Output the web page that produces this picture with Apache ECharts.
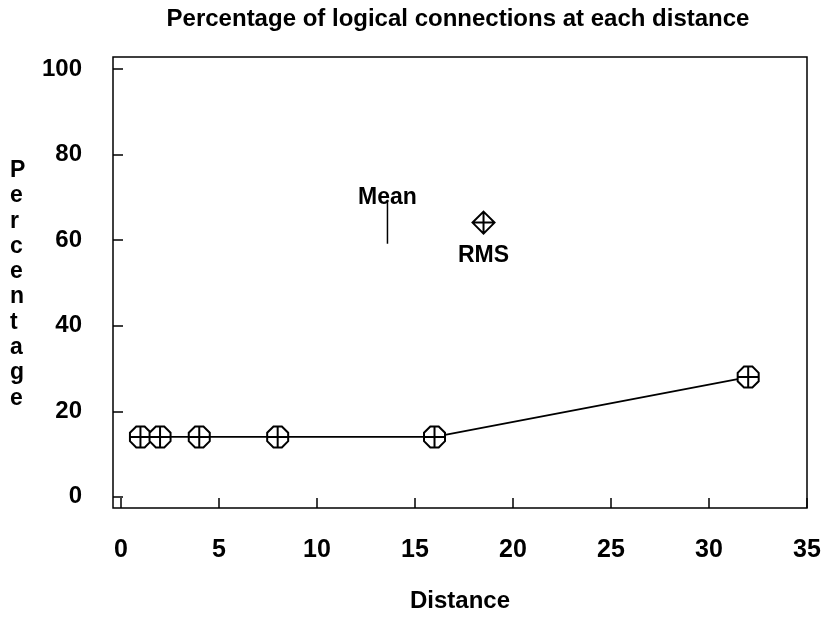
<!DOCTYPE html>
<html>
<head>
<meta charset="utf-8">
<script src="https://cdn.jsdelivr.net/npm/echarts@6/dist/echarts.min.js"></script>
<style>html,body{margin:0;padding:0;background:#fff}#c{width:825px;height:619px}</style>
</head>
<body>
<div id="c"></div>
<script>
const distances = [1, 2, 4, 8, 16, 32];
const percentages = [14, 14, 14, 14, 14, 28];
const meanPoint = [13.6, 64.3];
const rmsPoint = [18.5, 64.1];
const xTicks = [0, 5, 10, 15, 20, 25, 30, 35];
const yTicks = [0, 20, 40, 60, 80, 100];
const titleText = 'Percentage of logical connections at each distance';
const xName = 'Distance';
const yName = 'Percentage';

const FONT = '"Liberation Sans", Arial, sans-serif';
const octCross = 'path://M6,0 L14,0 L20,6 L20,14 L14,20 L6,20 L0,14 L0,6 Z M10,0 L10,20 M0,10 L20,10';
const diaCross = 'path://M10,0 L20,10 L10,20 L0,10 Z M10,0 L10,20 M0,10 L20,10';

const chart = echarts.init(document.getElementById('c'), null, {renderer: 'canvas'});
chart.setOption({
  backgroundColor: '#fff',
  animation: false,
  title: {
    text: titleText, left: 458, textAlign: 'center', top: 7, padding: 0,
    textStyle: {fontFamily: FONT, fontWeight: 'bold', fontSize: 24, color: '#000'}
  },
  grid: {left: 113, right: 18, top: 57, bottom: 111, show: true, borderColor: '#000', borderWidth: 1.5, backgroundColor: 'transparent'},
  graphic: [{
    type: 'text', left: 10, top: 158,
    style: {text: yName.split('').join('\n'), font: 'bold 23px ' + FONT, fill: '#000', align: 'center', lineHeight: 25.3, x: 10}
  }],
  xAxis: {
    type: 'value', min: -0.4, max: 35,
    name: xName, nameLocation: 'middle', nameGap: 81,
    nameTextStyle: {fontFamily: FONT, fontWeight: 'bold', fontSize: 24, color: '#000'},
    axisLine: {show: false, onZero: false},
    axisTick: {show: true, inside: true, length: 10, customValues: xTicks, lineStyle: {color: '#000', width: 1.5}},
    axisLabel: {customValues: xTicks, margin: 30, fontFamily: FONT, fontWeight: 'bold', fontSize: 25, color: '#000'},
    splitLine: {show: false}
  },
  yAxis: {
    type: 'value', min: -2.6, max: 102.8,
    axisLine: {show: false, onZero: false},
    axisTick: {show: true, inside: true, length: 10, customValues: yTicks, lineStyle: {color: '#000', width: 1.5}},
    axisLabel: {customValues: yTicks, margin: 31, fontFamily: FONT, fontWeight: 'bold', fontSize: 24, color: '#000'},
    splitLine: {show: false}
  },
  series: [
    {
      type: 'line',
      data: distances.map((d, i) => [d, percentages[i]]),
      symbol: octCross, symbolSize: 21, showAllSymbol: true,
      lineStyle: {color: '#000', width: 1.8},
      itemStyle: {color: '#fff', borderColor: '#000', borderWidth: 2, opacity: 1},
      z: 3
    },
    {
      type: 'scatter',
      data: [meanPoint],
      symbol: 'rect', symbolSize: [1.5, 44],
      itemStyle: {color: '#000', opacity: 1},
      label: {show: true, formatter: 'Mean', position: 'top', distance: -9, fontFamily: FONT, fontWeight: 'bold', fontSize: 23, color: '#000'}
    },
    {
      type: 'scatter',
      data: [rmsPoint],
      symbol: diaCross, symbolSize: 22,
      itemStyle: {color: '#fff', borderColor: '#000', borderWidth: 2, opacity: 1},
      label: {show: true, formatter: 'RMS', position: 'bottom', distance: 10, fontFamily: FONT, fontWeight: 'bold', fontSize: 23, color: '#000'}
    }
  ]
});
</script>
</body>
</html>
